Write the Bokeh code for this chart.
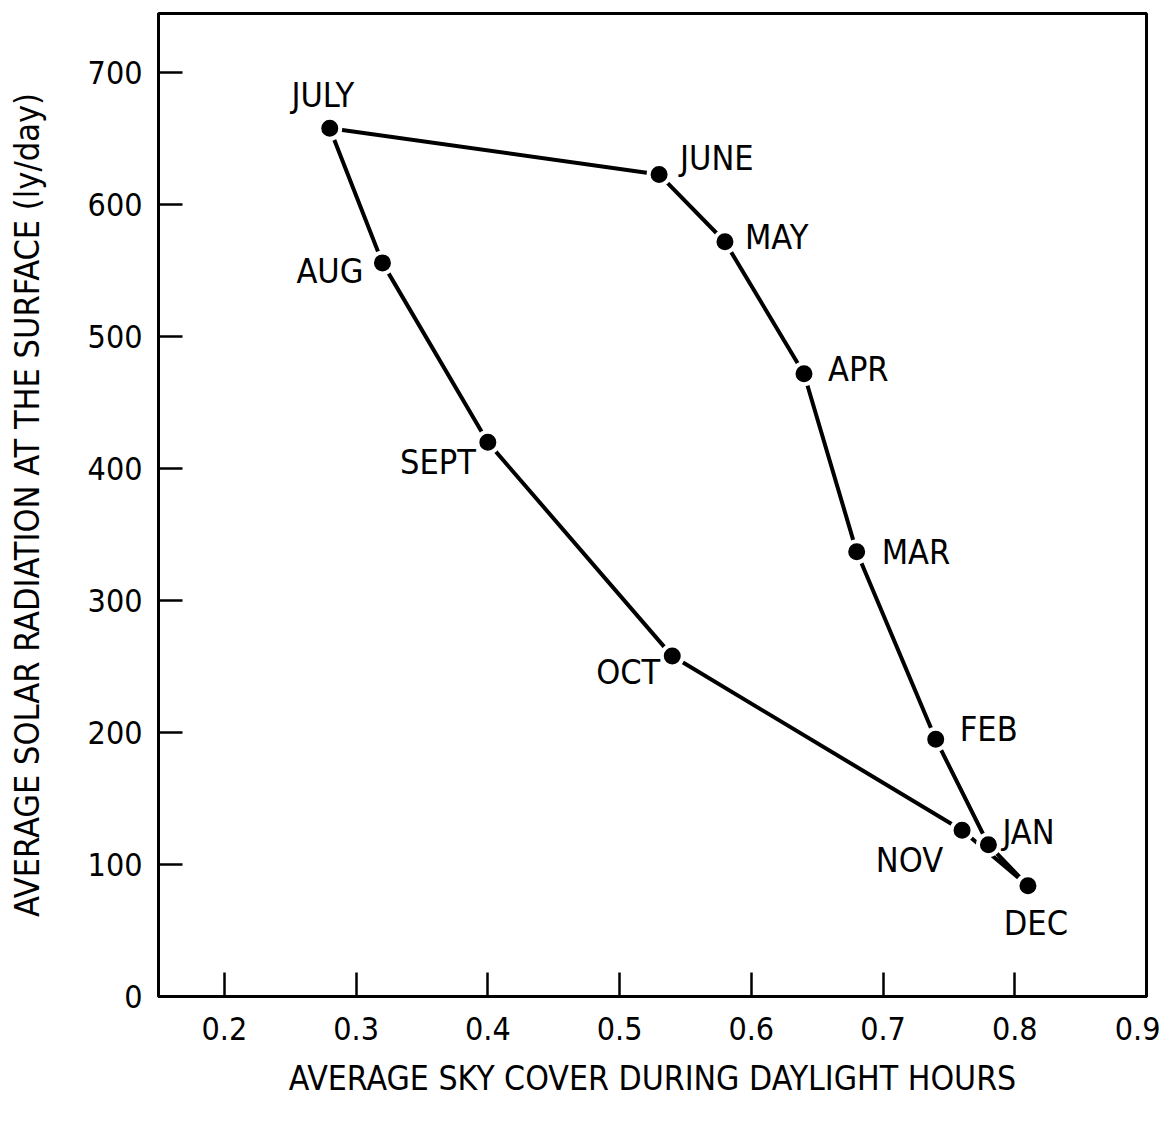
from bokeh.plotting import figure
from bokeh.models import ColumnDataSource, Range1d, FixedTicker
from bokeh.core.properties import value
from bokeh.embed import file_html
from bokeh.resources import INLINE

# ---- data ----
months = ["JULY", "JUNE", "MAY", "APR", "MAR", "FEB", "JAN", "DEC", "NOV", "OCT", "SEPT", "AUG"]
sky_cover = [0.28, 0.53, 0.58, 0.64, 0.68, 0.74, 0.78, 0.81, 0.76, 0.54, 0.40, 0.32]
radiation = [658, 623, 572, 472, 337, 195, 115, 84, 126, 258, 420, 556]
x_ticks = [0.2, 0.3, 0.4, 0.5, 0.6, 0.7, 0.8, 0.9]
y_ticks = [0, 100, 200, 300, 400, 500, 600, 700]

# ---- label placement (styling, screen pixels) ----
label_align = ["center", "left", "left", "left", "left", "left", "left", "center", "right", "right", "right", "right"]
label_dx = [-7, 21, 20, 24, 25, 24, 14, 8, -19, -12, -12, -19]
label_dy = [-33, -16, -5, -5, 0, -10, -13, 37, 30, 16, 20, 8]

FONT = "DejaVu Sans Condensed, Liberation Sans, sans-serif"

p = figure(width=1160, height=1118, output_backend="svg", toolbar_location=None,
           x_range=Range1d(0.15, 0.9), y_range=Range1d(0, 745),
           min_border_left=158, min_border_top=13, min_border_right=14, min_border_bottom=122)

p.xgrid.visible = False
p.ygrid.visible = False
p.outline_line_color = "black"
p.outline_line_width = 3
p.outline_line_alpha = 1.0
p.background_fill_color = "white"
p.border_fill_color = "white"

for ax in (p.xaxis[0], p.yaxis[0]):
    ax.axis_line_width = 3
    ax.axis_line_color = "black"
    ax.major_tick_in = 24
    ax.major_tick_out = 0
    ax.major_tick_line_width = 2.5
    ax.major_tick_line_color = "black"
    ax.minor_tick_line_color = None
    ax.major_label_text_font = FONT
    ax.major_label_text_font_size = "32px"
    ax.major_label_text_color = "black"
    ax.axis_label_text_font = FONT
    ax.axis_label_text_font_style = "normal"
    ax.axis_label_text_color = "black"

p.xaxis.axis_label_text_font_size = "33.5px"
p.yaxis.axis_label_text_font_size = "34px"
p.xaxis.ticker = FixedTicker(ticks=x_ticks)
p.yaxis.ticker = FixedTicker(ticks=y_ticks)
p.xaxis.major_label_overrides = {t: f"{t:.1f}" for t in x_ticks}
p.xaxis.major_label_standoff = 20
p.yaxis.major_label_standoff = 16
p.xaxis.axis_label = "AVERAGE SKY COVER DURING DAYLIGHT HOURS"
p.yaxis.axis_label = "AVERAGE SOLAR RADIATION AT THE SURFACE (ly/day)"
p.xaxis.axis_label_standoff = 16
p.yaxis.axis_label_standoff = 38

# closed loop through the months
loop_x = sky_cover + [sky_cover[0]]
loop_y = radiation + [radiation[0]]
p.line(loop_x, loop_y, line_color="black", line_width=4)

src = ColumnDataSource(dict(x=sky_cover, y=radiation, month=months,
                            align=label_align, dx=label_dx, dy=label_dy))
p.scatter("x", "y", source=src, size=21, fill_color="black",
          line_color="white", line_width=4)

p.text("x", "y", text="month", source=src, x_offset="dx", y_offset="dy",
       text_align="align", text_baseline="middle",
       text_font=value(FONT), text_font_size="34px", text_color="black")

open("out.html", "w").write(file_html(p, INLINE))
